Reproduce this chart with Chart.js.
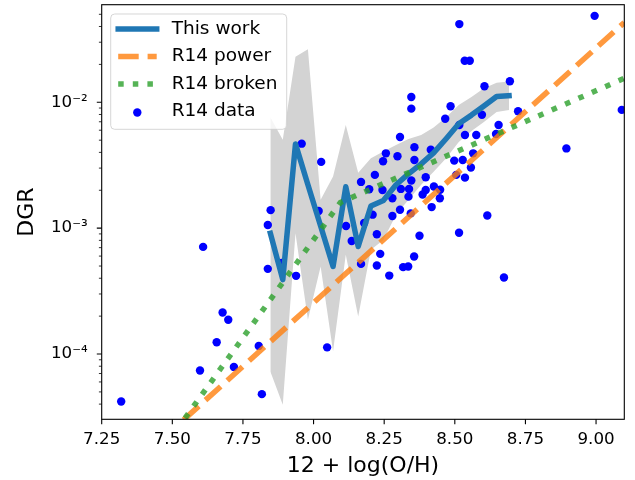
<!DOCTYPE html>
<html>
<head>
<meta charset="utf-8">
<script src="https://cdn.jsdelivr.net/npm/chart.js@4"></script>
<style>
  html, body { margin: 0; padding: 0; background: #fff; }
</style>
</head>
<body>
<canvas id="dgrChart" width="635" height="480"></canvas>
<script>
const xTicks = [7.25, 7.5, 7.75, 8.0, 8.25, 8.5, 8.75, 9.0];
const yTicks = [1e-4, 1e-3, 1e-2];

// This work: binned DGR and its spread
const workX = [7.847, 7.891, 7.936, 7.980, 8.025, 8.069, 8.114, 8.158, 8.203, 8.247,
               8.292, 8.336, 8.381, 8.425, 8.470, 8.514, 8.559, 8.603, 8.648, 8.692];
const workDGR = [9.1e-4, 3.9e-4, 4.67e-3, 2.21e-3, 1.04e-3, 4.96e-4, 2.13e-3, 7.15e-4, 1.50e-3, 1.66e-3,
                 2.21e-3, 2.70e-3, 3.24e-3, 3.96e-3, 5.16e-3, 6.76e-3, 7.91e-3, 9.33e-3, 1.11e-2, 1.13e-2];
const workHi = [7.6e-3, 5.03e-3, 2.30e-2, 2.64e-2, 1.68e-3, 2.57e-3, 6.6e-3, 2.75e-3, 3.6e-3, 4.06e-3,
                4.58e-3, 5.12e-3, 5.50e-3, 6.31e-3, 7.64e-3, 9.5e-3, 1.10e-2, 1.29e-2, 1.43e-2, 1.46e-2];
const workLo = [7.28e-5, 3.96e-5, 9.1e-4, 1.87e-4, 4.96e-4, 1.05e-4, 6.14e-4, 1.99e-4, 6.73e-4, 8.07e-4,
                1.28e-3, 1.68e-3, 2.21e-3, 2.80e-3, 3.61e-3, 4.84e-3, 5.92e-3, 6.98e-3, 8.38e-3, 8.69e-3];

// R14 fits (end points, and the break of the broken one)
const powerX = [7.54, 9.1];
const powerDGR = [3.0e-5, 4.3e-2];
const brokenX = [7.545, 8.095, 9.1];
const brokenDGR = [3.1e-5, 1.6e-3, 1.55e-2];

// R14 data
const dataX = [7.319, 7.609, 7.838, 7.678, 7.698, 7.657, 7.806, 7.598, 7.718, 7.817,
               7.958, 8.027, 7.848, 7.838, 7.938, 8.018, 8.115, 8.135, 8.168, 8.168,
               8.197, 8.217, 8.209, 8.179, 8.224, 8.224, 7.887, 8.048, 8.346, 8.346,
               8.485, 8.466, 8.596, 8.655, 8.646, 8.576, 8.536, 8.306, 8.357, 8.415,
               8.256, 8.246, 8.297, 8.357, 8.565, 8.498, 8.528, 8.557, 8.505, 8.536,
               8.346, 8.397, 8.397, 8.244, 8.309, 8.338, 8.336, 8.279, 8.386, 8.426,
               8.448, 8.447, 8.418, 8.306, 8.279, 8.344, 8.615, 8.375, 8.515, 8.236,
               8.356, 8.317, 8.335, 8.268, 8.674, 8.516, 8.535, 8.553, 8.995, 8.605,
               8.695, 8.724, 9.091, 8.516, 8.895];
const dataDGR = [4.2e-5, 7.1e-4, 4.75e-4, 2.14e-4, 1.87e-4, 1.24e-4, 1.16e-4, 7.4e-5, 7.9e-5, 4.8e-5,
                 4.69e-3, 3.36e-3, 1.39e-3, 1.06e-3, 4.18e-4, 1.37e-3, 1.04e-3, 7.9e-4, 5.2e-4, 2.33e-3,
                 2.04e-3, 2.65e-3, 1.28e-3, 1.10e-3, 8.95e-4, 5.05e-4, 5.3e-4, 1.13e-4, 1.10e-2, 8.9e-3,
                 9.3e-3, 7.4e-3, 7.97e-3, 6.6e-3, 5.6e-3, 5.5e-3, 5.5e-3, 5.3e-3, 4.4e-3, 4.2e-3,
                 3.93e-3, 3.40e-3, 3.73e-3, 3.48e-3, 3.93e-3, 3.44e-3, 3.48e-3, 3.03e-3, 2.65e-3, 2.52e-3,
                 2.39e-3, 2.54e-3, 2.01e-3, 2.01e-3, 2.05e-3, 2.05e-3, 1.78e-3, 1.73e-3, 1.85e-3, 2.14e-3,
                 2.02e-3, 1.73e-3, 1.47e-3, 1.40e-3, 1.25e-3, 1.31e-3, 1.26e-3, 8.7e-4, 9.2e-4, 6.25e-4,
                 5.96e-4, 4.9e-4, 4.96e-4, 4.2e-4, 4.06e-4, 4.18e-2, 2.14e-2, 2.14e-2, 4.86e-2, 1.34e-2,
                 1.47e-2, 8.5e-3, 8.7e-3, 6.6e-3, 4.3e-3];

const pts = (xs, ys) => xs.map((x, i) => ({ x: x, y: ys[i] }));
const supMap = { '-': '\u207B', '0': '\u2070', '1': '\u00B9', '2': '\u00B2', '3': '\u00B3',
                 '4': '\u2074', '5': '\u2075', '6': '\u2076', '7': '\u2077', '8': '\u2078', '9': '\u2079' };
const sup = n => String(n).split('').map(c => supMap[c]).join('');

const FONT = 'DejaVu Sans';
const LW = 5.5;

const legendItems = [
  { label: 'This work', color: '#1f77b4', dash: [], cap: 'square' },
  { label: 'R14 power', color: 'rgba(255,127,14,0.8)', dash: [20.5, 8.9], cap: 'butt' },
  { label: 'R14 broken', color: 'rgba(44,160,44,0.8)', dash: [5.5, 9.1], cap: 'butt' },
  { label: 'R14 data', color: '#0000ff', marker: true }
];

const axesDecor = {
  id: 'axesDecor',
  afterDraw(chart) {
    const { ctx, chartArea: a, scales: { x, y } } = chart;
    ctx.save();
    // spines
    ctx.strokeStyle = '#000';
    ctx.lineWidth = 1.1;
    ctx.strokeRect(a.left, a.top, a.right - a.left, a.bottom - a.top);
    // major ticks
    ctx.beginPath();
    xTicks.forEach(v => {
      const px = x.getPixelForValue(v);
      ctx.moveTo(px, a.bottom); ctx.lineTo(px, a.bottom + 4.9);
    });
    yTicks.forEach(v => {
      const py = y.getPixelForValue(v);
      ctx.moveTo(a.left, py); ctx.lineTo(a.left - 4.9, py);
    });
    ctx.stroke();
    // minor ticks
    ctx.lineWidth = 0.8;
    ctx.beginPath();
    for (let e = -5; e <= -1; e++) {
      for (let m = 2; m <= 9; m++) {
        const v = m * Math.pow(10, e);
        if (v < y.min || v > y.max) continue;
        const py = y.getPixelForValue(v);
        ctx.moveTo(a.left, py); ctx.lineTo(a.left - 2.8, py);
      }
    }
    ctx.stroke();

    // legend
    const lx = a.left + 9, ly = a.top + 9.3, lw = 176, lh = 115.3, r = 4;
    ctx.beginPath();
    ctx.moveTo(lx + r, ly);
    ctx.arcTo(lx + lw, ly, lx + lw, ly + lh, r);
    ctx.arcTo(lx + lw, ly + lh, lx, ly + lh, r);
    ctx.arcTo(lx, ly + lh, lx, ly, r);
    ctx.arcTo(lx, ly, lx + lw, ly, r);
    ctx.closePath();
    ctx.fillStyle = 'rgba(255,255,255,0.8)';
    ctx.fill();
    ctx.strokeStyle = 'rgba(204,204,204,0.8)';
    ctx.lineWidth = 1;
    ctx.stroke();

    legendItems.forEach((it, i) => {
      const yy = ly + 15 + i * 27.5;
      if (it.marker) {
        ctx.beginPath();
        ctx.fillStyle = it.color;
        ctx.arc(lx + 26.6, yy + 1, 4.2, 0, Math.PI * 2);
        ctx.fill();
      } else {
        ctx.beginPath();
        ctx.setLineDash(it.dash);
        ctx.lineCap = it.cap;
        ctx.strokeStyle = it.color;
        ctx.lineWidth = LW;
        ctx.moveTo(lx + 7.5, yy);
        ctx.lineTo(lx + 46, yy);
        ctx.stroke();
        ctx.setLineDash([]);
      }
      ctx.fillStyle = '#000';
      ctx.font = '18.5px "' + FONT + '"';
      ctx.textBaseline = 'middle';
      ctx.textAlign = 'left';
      ctx.fillText(it.label, lx + 61, yy);
    });
    ctx.restore();
  }
};

new Chart(document.getElementById('dgrChart'), {
  type: 'line',
  data: {
    datasets: [
      {
        label: 'This work',
        data: pts(workX, workDGR),
        borderColor: '#1f77b4',
        borderWidth: LW,
        borderJoinStyle: 'round',
        borderCapStyle: 'square',
        pointRadius: 0,
        fill: false,
        order: 3,
        clip: 0
      },
      {
        label: 'R14 power',
        data: pts(powerX, powerDGR),
        borderColor: 'rgba(255,127,14,0.8)',
        borderWidth: LW,
        borderDash: [20.5, 8.9],
        borderCapStyle: 'butt',
        pointRadius: 0,
        fill: false,
        order: 2,
        clip: 0
      },
      {
        label: 'R14 broken',
        data: pts(brokenX, brokenDGR),
        borderColor: 'rgba(44,160,44,0.8)',
        borderWidth: LW,
        borderDash: [5.5, 9.1],
        borderCapStyle: 'butt',
        pointRadius: 0,
        fill: false,
        order: 1,
        clip: 0
      },
      {
        label: 'R14 data',
        data: pts(dataX, dataDGR),
        showLine: false,
        pointRadius: 4.2,
        pointBackgroundColor: '#0000ff',
        pointBorderWidth: 0,
        order: 4,
        clip: 0
      },
      {
        label: 'spread high',
        data: pts(workX, workHi),
        borderWidth: 0,
        pointRadius: 0,
        backgroundColor: '#d3d3d3',
        fill: '+1',
        order: 5,
        clip: 0
      },
      {
        label: 'spread low',
        data: pts(workX, workLo),
        borderWidth: 0,
        pointRadius: 0,
        fill: false,
        order: 5,
        clip: 0
      }
    ]
  },
  options: {
    responsive: false,
    animation: false,
    devicePixelRatio: 1,
    layout: { padding: { top: 4.7, right: 10.7, left: 0, bottom: 0 } },
    plugins: {
      legend: { display: false },
      tooltip: { enabled: false }
    },
    scales: {
      x: {
        type: 'linear',
        min: 7.25,
        max: 9.1,
        grid: { display: false, drawTicks: false },
        border: { display: false },
        afterBuildTicks: s => { s.ticks = xTicks.map(v => ({ value: v })); },
        afterFit: s => { s.height = 60.7; s.paddingLeft = 0; s.paddingRight = 0; },
        ticks: {
          padding: 10,
          color: '#000',
          autoSkip: false,
          maxRotation: 0,
          font: { family: FONT, size: 16.7 },
          callback: v => Number(v).toFixed(2)
        },
        title: {
          display: true,
          text: '12 + log(O/H)',
          color: '#000',
          font: { family: FONT, size: 22 },
          padding: { top: 0, bottom: 1 }
        }
      },
      y: {
        type: 'logarithmic',
        min: 3.03e-5,
        max: 5.96e-2,
        grid: { display: false, drawTicks: false },
        border: { display: false },
        afterBuildTicks: s => { s.ticks = yTicks.map(v => ({ value: v })); },
        afterFit: s => { s.width = 101.7; s.paddingTop = 0; s.paddingBottom = 0; },
        ticks: {
          padding: 14,
          color: '#000',
          autoSkip: false,
          font: { family: FONT, size: 16.7 },
          callback: v => '10' + sup(Math.round(Math.log10(v)))
        },
        title: {
          display: true,
          text: 'DGR',
          color: '#000',
          font: { family: FONT, size: 22 },
          padding: { top: 14, bottom: 0 }
        }
      }
    }
  },
  plugins: [axesDecor]
});
</script>
</body>
</html>
